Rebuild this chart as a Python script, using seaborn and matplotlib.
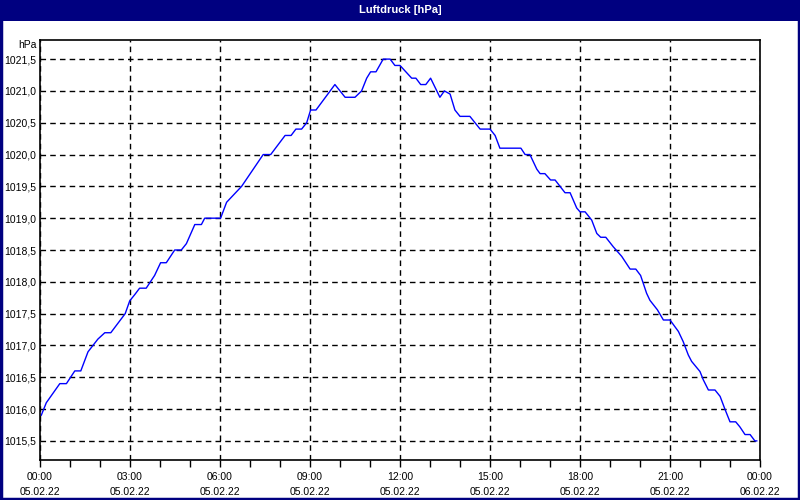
import matplotlib
matplotlib.use("Agg")
import matplotlib.pyplot as plt
from matplotlib.patches import Rectangle
import seaborn as sns
import pandas as pd

# time in hours since 05.02.22 00:00, pressure in hPa
hours = [0.04, 0.21, 0.66, 0.88, 1.16, 1.36, 1.60, 1.93, 2.16, 2.36, 2.84, 2.99, 3.16, 3.32, 3.54,
         3.82, 4.02, 4.21, 4.49, 4.71, 4.88, 5.16, 5.38, 5.49, 6.02, 6.22, 6.72, 7.44, 7.69,
         8.17, 8.37, 8.53, 8.72, 8.89, 9.02, 9.20, 9.83, 10.17, 10.50, 10.72, 10.89, 11.02,
         11.20, 11.44, 11.67, 11.83, 12.00, 12.39, 12.53, 12.69, 12.86, 13.02, 13.33, 13.48,
         13.67, 13.83, 14.00, 14.33, 14.67, 15.00, 15.17, 15.33, 16.03, 16.17, 16.33, 16.56,
         16.67, 16.83, 17.02, 17.17, 17.50, 17.67, 17.89, 18.00, 18.17, 18.39, 18.56, 18.69,
         18.86, 19.11, 19.39, 19.67, 19.86, 20.02, 20.22, 20.33, 20.58, 20.78, 21.00, 21.28,
         21.44, 21.61, 21.72, 22.00, 22.11, 22.28, 22.50, 22.67, 22.83, 23.00, 23.19, 23.33,
         23.50, 23.67, 23.83, 23.90]
pressure = [1015.9, 1016.1, 1016.4, 1016.4, 1016.6, 1016.6, 1016.9, 1017.1, 1017.2, 1017.2, 1017.5,
            1017.7, 1017.8, 1017.9, 1017.9, 1018.1, 1018.3, 1018.3, 1018.5, 1018.5, 1018.6, 1018.9,
            1018.9, 1019.0, 1019.0, 1019.25, 1019.5, 1020.0, 1020.0, 1020.3, 1020.3, 1020.4, 1020.4,
            1020.5, 1020.7, 1020.7, 1021.1, 1020.9, 1020.9, 1021.0, 1021.2, 1021.3, 1021.3, 1021.5,
            1021.5, 1021.4, 1021.4, 1021.2, 1021.2, 1021.1, 1021.1, 1021.2, 1020.9, 1021.0, 1020.95,
            1020.7, 1020.6, 1020.6, 1020.4, 1020.4, 1020.3, 1020.1, 1020.1, 1020.0, 1020.0, 1019.77,
            1019.7, 1019.7, 1019.6, 1019.6, 1019.4, 1019.4, 1019.16, 1019.1, 1019.1, 1018.97, 1018.76,
            1018.7, 1018.7, 1018.55, 1018.4, 1018.2, 1018.2, 1018.1, 1017.82, 1017.71, 1017.56, 1017.4,
            1017.4, 1017.22, 1017.06, 1016.85, 1016.75, 1016.59, 1016.46, 1016.3, 1016.3, 1016.2,
            1016.0, 1015.8, 1015.8, 1015.72, 1015.6, 1015.6, 1015.5, 1015.5]

x_ticks = [0, 3, 6, 9, 12, 15, 18, 21, 24]
x_labels = ["00:00\n05.02.22", "03:00\n05.02.22", "06:00\n05.02.22", "09:00\n05.02.22",
            "12:00\n05.02.22", "15:00\n05.02.22", "18:00\n05.02.22", "21:00\n05.02.22",
            "00:00\n06.02.22"]
y_ticks = [1015.5, 1016.0, 1016.5, 1017.0, 1017.5, 1018.0, 1018.5, 1019.0, 1019.5,
           1020.0, 1020.5, 1021.0, 1021.5]
y_labels = [f"{v:.1f}".replace(".", ",") for v in y_ticks]
title = "Luftdruck [hPa]"
unit = "hPa"

df = pd.DataFrame({"t": hours, "p": pressure})

sns.set_style("white")
plt.rcParams["font.family"] = ["Liberation Sans", "DejaVu Sans"]
plt.rcParams["text.color"] = "black"
plt.rcParams["xtick.color"] = "black"
plt.rcParams["ytick.color"] = "black"

FS = 7.5

fig = plt.figure(figsize=(8, 5), dpi=100, facecolor="white")
ax = fig.add_axes([40 / 800, 1 - 460 / 500, 720 / 800, 420 / 500])
ax.set_facecolor("white")

sns.lineplot(data=df, x="t", y="p", ax=ax, color="#0000FF", linewidth=1.0)

ax.set_xlim(0, 24)
ax.set_ylim(1015.2, 1021.8)
ax.set_xticks(x_ticks)
ax.set_xticklabels(x_labels, fontsize=FS, linespacing=1.6, color="black")
ax.set_xticks(list(range(0, 25)), minor=True)
ax.set_yticks(y_ticks)
ax.set_yticklabels(y_labels, fontsize=FS, color="black")
ax.set_xlabel("")
ax.set_ylabel("")

ax.grid(True, which="major", color="black", linestyle=(0, (4, 3)), linewidth=1.0)
ax.tick_params(axis="x", which="both", direction="out", length=5, width=1, color="black",
               bottom=True, pad=4)
ax.tick_params(axis="y", which="both", length=0, pad=3)
for s in ax.spines.values():
    s.set_visible(True)
    s.set_color("black")
    s.set_linewidth(1.2)

ax.text(-0.005, 1 - 5 / 420, unit, transform=ax.transAxes, ha="right", va="center",
        fontsize=FS, color="black")

# title bar and window border
fig.patches.append(Rectangle((0, 1 - 21 / 500), 1, 21 / 500, transform=fig.transFigure,
                             facecolor="#000080", edgecolor="none", zorder=0))
fig.patches.append(Rectangle((0.0015, 0.003), 0.997, 0.994, transform=fig.transFigure,
                             facecolor="none", edgecolor="#000080", linewidth=2.5, zorder=5))
fig.text(0.5, 1 - 10 / 500, title, ha="center", va="center", color="white",
         fontsize=FS + 0.5, fontweight="bold")

fig.savefig("out.png", dpi=100, facecolor="white")
